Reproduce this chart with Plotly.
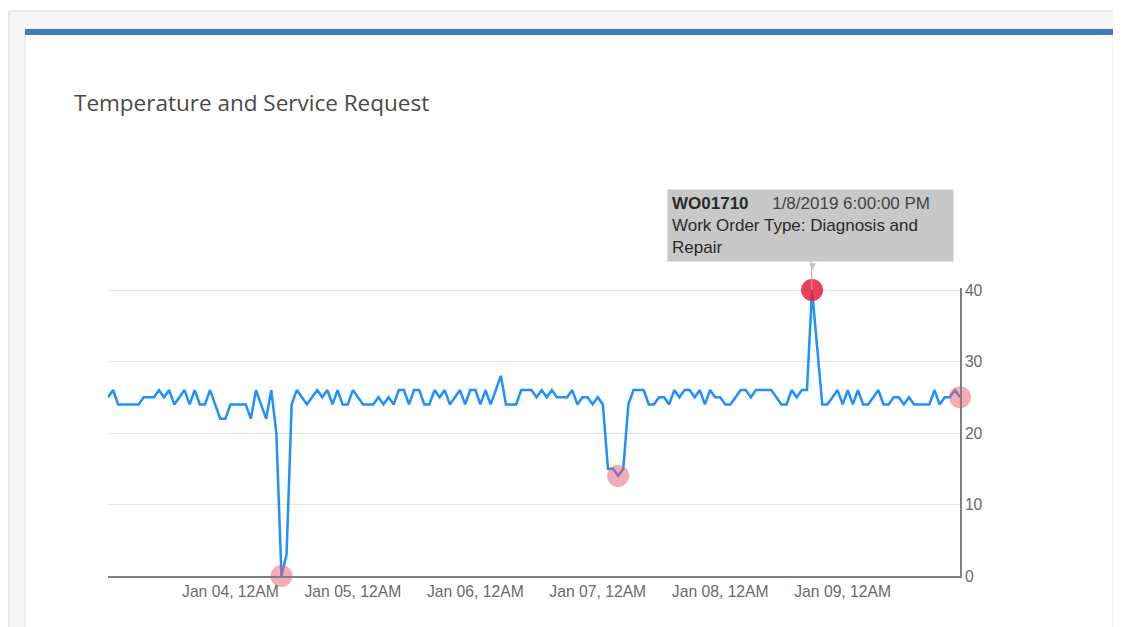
import pandas as pd
import plotly.graph_objects as go

W, H = 1121, 627
OFF = 8  # page body margin: reference pixel = figure pixel + OFF
ML, MR, MT, MB = 100, 169, 280, 59

start_time = "2019-01-03 00:00"
temperature = [
    25, 26, 24, 24, 24, 24, 24, 25, 25, 25, 26, 25, 26, 24, 25, 26, 24, 26, 24, 24,
    26, 24, 22, 22, 24, 24, 24, 24, 22, 26, 24, 22, 26, 20, 0, 3, 24, 26, 25, 24,
    25, 26, 25, 26, 24, 26, 24, 24, 26, 25, 24, 24, 24, 25, 24, 25, 24, 26, 26, 24,
    26, 26, 24, 24, 26, 25, 26, 24, 25, 26, 24, 26, 26, 24, 26, 24, 26, 28, 24, 24,
    24, 26, 26, 26, 25, 26, 25, 26, 25, 25, 25, 26, 24, 25, 25, 24, 25, 24, 15, 15,
    14, 15, 24, 26, 26, 26, 24, 24, 25, 25, 24, 26, 25, 26, 26, 25, 26, 24, 26, 25,
    25, 24, 24, 25, 26, 26, 25, 26, 26, 26, 26, 25, 24, 24, 26, 25, 26, 26, 40, 32,
    24, 24, 25, 26, 24, 26, 24, 26, 24, 24, 25, 26, 24, 24, 25, 25, 24, 25, 24, 24,
    24, 24, 26, 24, 25, 25, 26, 25,
]
times = pd.date_range(start_time, periods=len(temperature), freq="h")

sr_times = ["2019-01-04 10:00", "2019-01-07 04:00", "2019-01-08 18:00", "2019-01-09 23:00"]
sr_values = [0, 14, 40, 25]
sr_active = [False, False, True, False]

hover_id = "WO01710"
hover_date = "1/8/2019 6:00:00 PM"
hover_type = "Work Order Type: Diagnosis and<br>Repair"

tick_dates = ["2019-01-04", "2019-01-05", "2019-01-06", "2019-01-07", "2019-01-08", "2019-01-09"]
y_ticks = [0, 10, 20, 30, 40]

PW, PH = W - ML - MR, H - MT - MB


def px(x):
    return (x - OFF - ML) / PW


def py(y):
    return (H - MB - (y - OFF)) / PH


fig = go.Figure()
fig.add_trace(go.Scatter(
    x=times, y=temperature, mode="lines",
    line=dict(color="#1e90ff", width=2.5),
    hoverinfo="skip", showlegend=False, cliponaxis=False,
))
fig.add_trace(go.Scatter(
    x=sr_times, y=sr_values, mode="markers",
    marker=dict(size=22,
                color=["rgba(232,30,60,0.85)" if a else "rgba(235,90,110,0.5)" for a in sr_active],
                line=dict(width=0)),
    hoverinfo="skip", showlegend=False, cliponaxis=False,
))

shapes = [
    dict(type="rect", xref="paper", yref="paper", x0=px(9), x1=px(W + 20), y0=py(H + 20), y1=py(11),
         fillcolor="#f6f6f6", line=dict(color="#d4d4d4", width=1), layer="below"),
    dict(type="rect", xref="paper", yref="paper", x0=px(25), x1=px(1113), y0=py(H + 20), y1=py(29),
         fillcolor="#ffffff", line=dict(color="#e2e2e2", width=1), layer="below"),
    dict(type="rect", xref="paper", yref="paper", x0=px(25), x1=px(1113), y0=py(35), y1=py(29),
         fillcolor="#3d7cc0", line=dict(width=0), layer="above"),
]

active_i = sr_active.index(True)
annotations = [
    dict(text="Temperature and Service Request", xref="paper", yref="paper",
         x=px(72), y=py(102), xanchor="left", yanchor="middle", showarrow=False,
         font=dict(family="Open Sans", size=22.5, color="#4a4a4a")),
    dict(text=("<b>" + hover_id + "</b>" + "\u00a0" * 5
               + "<span style='color:#444'>" + hover_date + "</span><br>" + hover_type),
         x=sr_times[active_i], y=sr_values[active_i], xref="x", yref="y",
         showarrow=True, arrowhead=0, arrowwidth=1, arrowcolor="#b0b0b0",
         ax=-2, ay=-65, standoff=0, align="left",
         bgcolor="#c8c8c8", borderpad=4, width=277,
         font=dict(family="Liberation Sans", size=17, color="#2a2a2a")),
    dict(text="\u25bc", x=sr_times[active_i], y=sr_values[active_i], xref="x", yref="y",
         showarrow=False, yanchor="top", yshift=31,
         font=dict(family="DejaVu Sans", size=9, color="#c8c8c8")),
]

fig.update_layout(
    width=W, height=H,
    margin=dict(l=ML, r=MR, t=MT, b=MB),
    paper_bgcolor="#ffffff", plot_bgcolor="rgba(0,0,0,0)",
    shapes=shapes, annotations=annotations,
    font=dict(family="Liberation Sans", color="#666666"),
    xaxis=dict(
        range=[times[0], times[-1]], type="date",
        tickvals=tick_dates, tickformat="%b %d, %I%p",
        showgrid=False, showline=True, linecolor="#808080", linewidth=1.5,
        ticks="", tickfont=dict(size=15.7, color="#6a6a6a"), zeroline=False,
    ),
    yaxis=dict(
        range=[0, 40.28], side="right", tickvals=y_ticks,
        showgrid=True, gridcolor="#e4e4e4", gridwidth=1,
        showline=True, linecolor="#808080", linewidth=1.5,
        ticks="", tickfont=dict(size=15.7, color="#6a6a6a"), zeroline=False,
    ),
)

fig.write_html("out.html")
